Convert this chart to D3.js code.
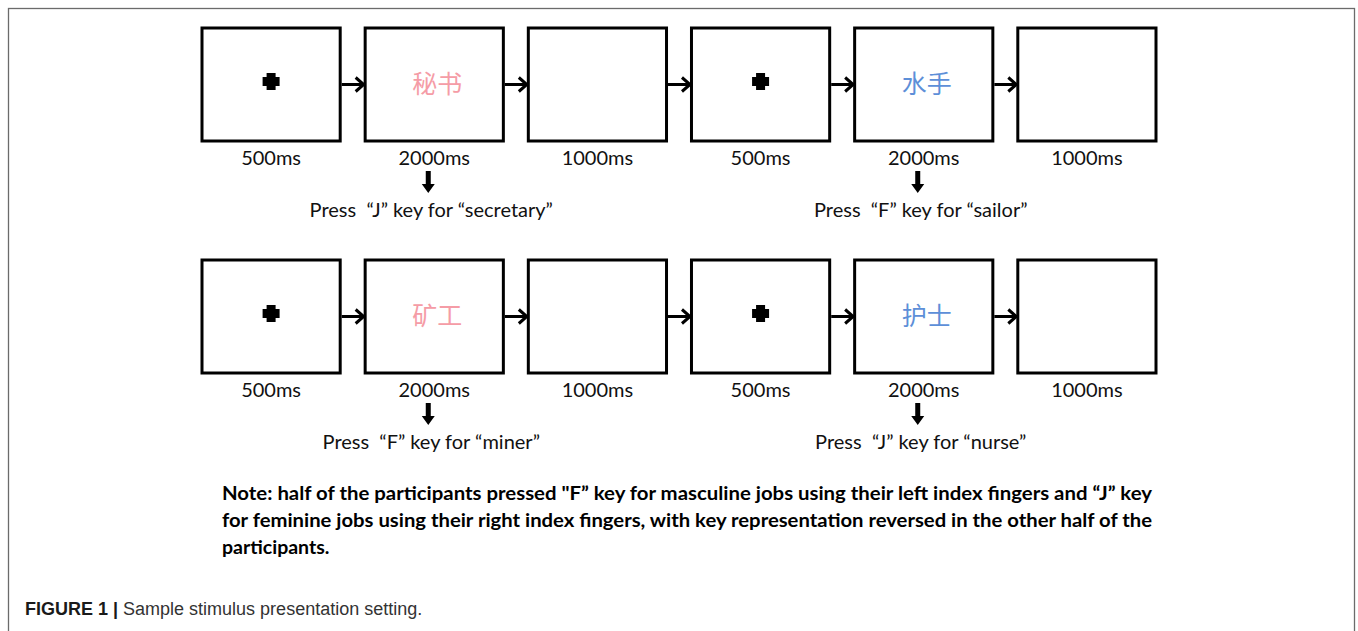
<!DOCTYPE html>
<html lang="en">
<head>
    <meta charset="UTF-8">
    <title>Sample stimulus presentation setting</title>
    <script src="https://d3js.org/d3.v7.min.js"></script>
    <style>
        body { margin: 0; background: #fff; }
        svg { display: block; }
    </style>
</head>
<body>
    <figure style="margin:0"></figure>
    <script>
        //declare variables
        const w = 1358;
        const h = 631;
        const boxH = 113; //height of each screen
        const wordFont = "'Noto Sans CJK SC', sans-serif";
        const labelFont = "Lato, 'Open Sans', sans-serif";

        //data
        const screens = ["fixation", "word", "blank", "fixation", "word", "blank"];
        const durations = ["500ms", "2000ms", "1000ms", "500ms", "2000ms", "1000ms"];
        const rows = [0, 1];
        const words = [["秘书", "水手"], ["矿工", "护士"]];
        const wordColors = [["#f59ca6", "#5d8fd8"], ["#f59ca6", "#5d8fd8"]];
        const responses = [
            ["Press  \u201cJ\u201d key for \u201csecretary\u201d", "Press  \u201cF\u201d key for \u201csailor\u201d"],
            ["Press  \u201cF\u201d key for \u201cminer\u201d", "Press  \u201cJ\u201d key for \u201cnurse\u201d"]
        ];
        const noteLines = [
            "Note: half of the participants pressed \"F\u201d key for masculine jobs using their left index fingers and \u201cJ\u201d key",
            "for feminine jobs using their right index fingers, with key representation reversed in the other half of the",
            "participants."
        ];
        const captionBold = "FIGURE 1 | ";
        const captionText = "Sample stimulus presentation setting.";

        //scales
        const x = d3.scaleBand()
            .domain(d3.range(screens.length))
            .range([202, 1156])
            .paddingInner(0.153);
        const y = d3.scaleLinear()
            .domain([0, 1])
            .range([28, 260]);

        const svg = d3.select("figure").append("svg")
            .attr("width", w)
            .attr("height", h);

        //frame around the figure
        svg.append("rect")
            .attr("x", 8.5)
            .attr("y", 8.5)
            .attr("width", 1346)
            .attr("height", 700)
            .attr("fill", "none")
            .attr("stroke", "#6b6b6b")
            .attr("stroke-width", 1.3);

        rows.forEach(r => {
            const g = svg.append("g").attr("class", "row");
            const top = y(r);
            const cy = top + boxH / 2;

            //screens
            g.selectAll("rect.screen")
                .data(screens)
                .enter()
                .append("rect")
                .attr("class", "screen")
                .attr("x", (d, i) => x(i))
                .attr("y", top)
                .attr("width", x.bandwidth())
                .attr("height", boxH)
                .attr("fill", "#fff")
                .attr("stroke", "#000")
                .attr("stroke-width", 3);

            //arrows between screens
            const links = d3.range(screens.length - 1);
            g.selectAll("path.link")
                .data(links)
                .enter()
                .append("path")
                .attr("class", "link")
                .attr("d", i => {
                    const x0 = x(i) + x.bandwidth() + 1.5;
                    const x1 = x(i + 1) - 1.5;
                    return `M${x0},${cy}L${x1},${cy}M${x1 - 8},${cy - 7}L${x1},${cy}L${x1 - 8},${cy + 7}`;
                })
                .attr("fill", "none")
                .attr("stroke", "#000")
                .attr("stroke-width", 3);

            //fixation crosses
            const fixIdx = screens.map((s, i) => i).filter(i => screens[i] === "fixation");
            g.selectAll("path.cross")
                .data(fixIdx)
                .enter()
                .append("path")
                .attr("class", "cross")
                .attr("transform", i => `translate(${x(i) + x.bandwidth() / 2},${cy - 3})`)
                .attr("d", "M-4.5,-8.5H4.5V-4.5H8.5V4.5H4.5V8.5H-4.5V4.5H-8.5V-4.5H-4.5Z")
                .attr("fill", "#000");

            //words
            const wordIdx = screens.map((s, i) => i).filter(i => screens[i] === "word");
            g.selectAll("text.word")
                .data(wordIdx)
                .enter()
                .append("text")
                .attr("class", "word")
                .attr("x", i => x(i) + x.bandwidth() / 2 + 3)
                .attr("y", cy - 3)
                .attr("text-anchor", "middle")
                .attr("dominant-baseline", "central")
                .attr("font-family", wordFont)
                .attr("font-size", 25)
                .attr("fill", (d, k) => wordColors[r][k])
                .text((d, k) => words[r][k]);

            //durations
            g.selectAll("text.dur")
                .data(durations)
                .enter()
                .append("text")
                .attr("class", "dur")
                .attr("x", (d, i) => x(i) + x.bandwidth() / 2)
                .attr("y", top + boxH + 24)
                .attr("text-anchor", "middle")
                .attr("font-family", labelFont)
                .attr("font-size", 20)
                .attr("fill", "#111")
                .text(d => d);

            //down arrows and key responses
            g.selectAll("path.down")
                .data(wordIdx)
                .enter()
                .append("path")
                .attr("class", "down")
                .attr("transform", i => `translate(${x(i) + x.bandwidth() / 2 - 6},${top + boxH})`)
                .attr("d", "M-2.5,30H2.5V43H6.5L0,52L-6.5,43H-2.5Z")
                .attr("fill", "#000");

            g.selectAll("text.resp")
                .data(wordIdx)
                .enter()
                .append("text")
                .attr("class", "resp")
                .attr("x", i => x(i) + x.bandwidth() / 2 - 3)
                .attr("y", top + boxH + 76)
                .attr("text-anchor", "middle")
                .attr("font-family", labelFont)
                .attr("font-size", 20)
                .attr("fill", "#111")
                .style("white-space", "pre")
                .text((d, k) => responses[r][k]);
        });

        //note under the trials
        const noteWidths = [930, 930, null];
        svg.selectAll("text.note")
            .data(noteLines)
            .enter()
            .append("text")
            .attr("class", "note")
            .attr("x", 222)
            .attr("y", (d, i) => 500 + i * 27)
            .attr("font-family", labelFont)
            .attr("font-weight", "bold")
            .attr("font-size", 19.5)
            .attr("fill", "#000")
            .attr("textLength", (d, i) => noteWidths[i])
            .attr("lengthAdjust", "spacingAndGlyphs")
            .text(d => d);

        //caption
        const caption = svg.append("text")
            .attr("x", 25)
            .attr("y", 615)
            .attr("font-family", "'Liberation Sans', Arial, sans-serif")
            .attr("font-size", 18)
            .attr("fill", "#333");
        caption.append("tspan")
            .attr("font-weight", "bold")
            .attr("fill", "#1a1a1a")
            .style("white-space", "pre")
            .text(captionBold);
        caption.append("tspan")
            .text(captionText);
    </script>
</body>
</html>
